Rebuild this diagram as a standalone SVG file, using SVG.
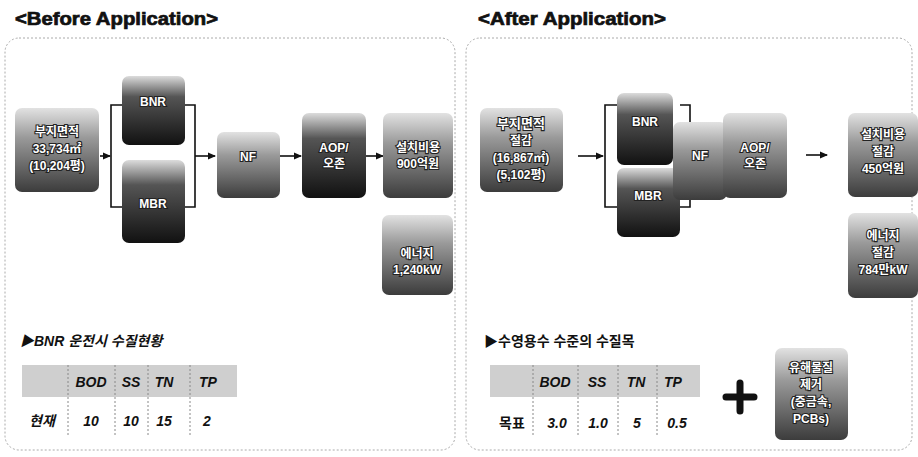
<svg xmlns="http://www.w3.org/2000/svg" width="918" height="457" viewBox="0 0 918 457">
<style>
text{font-family:"Liberation Sans","Noto Sans CJK KR",sans-serif}
.title{font-size:18px;font-weight:bold;fill:#111;stroke:#111;stroke-width:0.7px}
.panel{fill:none;stroke:#aaa;stroke-width:1;stroke-dasharray:2 2}
.box{fill:url(#g);}
.boxd{fill:url(#gd);}
.bt{font-size:12px;font-weight:bold;fill:#fff;stroke:#222;stroke-width:2.2px;paint-order:stroke;text-anchor:middle}
.ln{fill:none;stroke:#111;stroke-width:1.6}
.hd{font-size:14px;font-weight:bold;font-style:italic;fill:#111}
.th{font-size:14px;font-weight:bold;font-style:italic;fill:#111;text-anchor:middle}
.thead{fill:#cfcfcf}
.sep{stroke:#888;stroke-width:1;stroke-dasharray:2 2}
</style>
<defs>
<linearGradient id="g" x1="0" y1="0" x2="0" y2="1">
<stop offset="0" stop-color="#e2e2e2"/>
<stop offset="0.35" stop-color="#9a9a9a"/>
<stop offset="1" stop-color="#3c3c3c"/>
</linearGradient>
<linearGradient id="gd" x1="0" y1="0" x2="0" y2="1">
<stop offset="0" stop-color="#dcdcdc"/>
<stop offset="0.3" stop-color="#555"/>
<stop offset="1" stop-color="#111"/>
</linearGradient>
<marker id="ah" markerWidth="8" markerHeight="8" refX="7" refY="4" orient="auto" markerUnits="userSpaceOnUse">
<path d="M0,0.5 L8,4 L0,7.5 Z" fill="#111"/>
</marker>
</defs>
<rect width="918" height="457" fill="#fff"/>

<text class="title" x="15" y="25" textLength="203" lengthAdjust="spacingAndGlyphs">&lt;Before Application&gt;</text>
<text class="title" x="478" y="25" textLength="188" lengthAdjust="spacingAndGlyphs">&lt;After Application&gt;</text>

<rect class="panel" x="5" y="38" width="450" height="412" rx="14"/>
<rect class="panel" x="466" y="38" width="446" height="412" rx="14"/>

<g id="connectors">
<line class="ln" x1="100" y1="156" x2="110" y2="156" marker-end="url(#ah)"/>
<path class="ln" d="M122,105 H111 V207 H122"/>
<path class="ln" d="M185,105 H195 V207 H185"/>
<line class="ln" x1="195" y1="156" x2="215" y2="156" marker-end="url(#ah)"/>
<line class="ln" x1="280" y1="156" x2="301" y2="156" marker-end="url(#ah)"/>
<line class="ln" x1="366" y1="156" x2="383" y2="156" marker-end="url(#ah)"/>
<line class="ln" x1="578" y1="156" x2="603" y2="156" marker-end="url(#ah)"/>
<path class="ln" d="M617,105 H605 V207 H617"/>
<path class="ln" d="M680,105 H690 V207 H680"/>
<line class="ln" x1="806" y1="155" x2="827" y2="155" marker-end="url(#ah)"/>
</g>

<g id="before-site">
<rect class="box" x="15" y="108" width="84" height="84" rx="7"/>
<text class="bt" x="57" y="136">부지면적</text>
<text class="bt" x="57" y="153">33,734㎡</text>
<text class="bt" x="57" y="170">(10,204평)</text>
</g>
<g id="before-bnr">
<rect class="boxd" x="122" y="76" width="63" height="69" rx="7"/>
<text class="bt" x="153" y="106">BNR</text>
</g>
<g id="before-mbr">
<rect class="boxd" x="122" y="160" width="63" height="83" rx="7"/>
<text class="bt" x="153" y="208">MBR</text>
</g>
<g id="before-nf">
<rect class="box" x="217" y="132" width="63" height="66" rx="7"/>
<text class="bt" x="248" y="161">NF</text>
</g>
<g id="before-aop">
<rect class="boxd" x="302" y="113" width="64" height="85" rx="7"/>
<text class="bt" x="334" y="152">AOP/</text>
<text class="bt" x="334" y="168">오존</text>
</g>
<g id="before-cost">
<rect class="box" x="383" y="113" width="70" height="85" rx="7"/>
<text class="bt" x="418" y="152">설치비용</text>
<text class="bt" x="418" y="168">900억원</text>
</g>
<g id="before-energy">
<rect class="box" x="382" y="215" width="71" height="80" rx="7"/>
<text class="bt" x="417" y="258">에너지</text>
<text class="bt" x="417" y="274">1,240kW</text>
</g>

<g id="before-table">
<text class="hd" x="20" y="346">▶BNR 운전시 수질현황</text>
<rect class="thead" x="22" y="365" width="215" height="32"/>
<line class="sep" x1="68" y1="365" x2="68" y2="435"/>
<line class="sep" x1="115" y1="365" x2="115" y2="435"/>
<line class="sep" x1="148" y1="365" x2="148" y2="435"/>
<line class="sep" x1="190" y1="365" x2="190" y2="435"/>
<text class="th" x="91" y="387">BOD</text>
<text class="th" x="131" y="387">SS</text>
<text class="th" x="164" y="387">TN</text>
<text class="th" x="208" y="387">TP</text>
<text class="th" x="42" y="426">현재</text>
<text class="th" x="91" y="426">10</text>
<text class="th" x="131" y="426">10</text>
<text class="th" x="164" y="426">15</text>
<text class="th" x="207" y="426">2</text>
</g>

<g id="after-site">
<rect class="box" x="480" y="108" width="83" height="84" rx="7"/>
<text class="bt" x="521" y="128" style="font-size:13px">부지면적</text>
<text class="bt" x="521" y="145">절감</text>
<text class="bt" x="521" y="162">(16,867㎡)</text>
<text class="bt" x="521" y="179">(5,102평)</text>
</g>
<g id="after-mbr">
<rect class="boxd" x="617" y="168" width="63" height="69" rx="7"/>
<text class="bt" x="648" y="200">MBR</text>
</g>
<g id="after-bnr">
<rect class="boxd" x="617" y="93" width="56" height="72" rx="7"/>
<text class="bt" x="645" y="126">BNR</text>
</g>
<g id="after-nf">
<rect class="box" x="673" y="122" width="54" height="78" rx="7"/>
<text class="bt" x="700" y="160">NF</text>
</g>
<g id="after-aop">
<rect class="box" x="723" y="113" width="64" height="85" rx="7"/>
<text class="bt" x="755" y="152">AOP/</text>
<text class="bt" x="755" y="168">오존</text>
</g>
<g id="after-cost">
<rect class="box" x="848" y="113" width="70" height="84" rx="7"/>
<text class="bt" x="883" y="139">설치비용</text>
<text class="bt" x="883" y="156">절감</text>
<text class="bt" x="883" y="173">450억원</text>
</g>
<g id="after-energy">
<rect class="box" x="848" y="213" width="70" height="85" rx="7"/>
<text class="bt" x="883" y="240">에너지</text>
<text class="bt" x="883" y="257">절감</text>
<text class="bt" x="883" y="274">784만kW</text>
</g>

<g id="after-table">
<text class="hd" x="484" y="346" style="font-style:normal">▶수영용수 수준의 수질목</text>
<rect class="thead" x="490" y="365" width="210" height="32"/>
<line class="sep" x1="533" y1="365" x2="533" y2="435"/>
<line class="sep" x1="578" y1="365" x2="578" y2="435"/>
<line class="sep" x1="618" y1="365" x2="618" y2="435"/>
<line class="sep" x1="657" y1="365" x2="657" y2="435"/>
<text class="th" x="555" y="387">BOD</text>
<text class="th" x="597" y="387">SS</text>
<text class="th" x="636" y="387">TN</text>
<text class="th" x="673" y="387">TP</text>
<text class="th" x="512" y="428" style="font-style:normal">목표</text>
<text class="th" x="557" y="428">3.0</text>
<text class="th" x="598" y="428">1.0</text>
<text class="th" x="637" y="428">5</text>
<text class="th" x="677" y="428">0.5</text>
</g>

<g id="plus">
<path d="M740,383 V411 M726,397 H754" stroke="#111" stroke-width="7" stroke-linecap="round"/>
</g>

<g id="after-hazard">
<rect class="box" x="775" y="348" width="73" height="92" rx="7"/>
<text class="bt" x="811" y="372">유해물질</text>
<text class="bt" x="811" y="389">제거</text>
<text class="bt" x="811" y="406">(중금속,</text>
<text class="bt" x="811" y="423">PCBs)</text>
</g>
</svg>
